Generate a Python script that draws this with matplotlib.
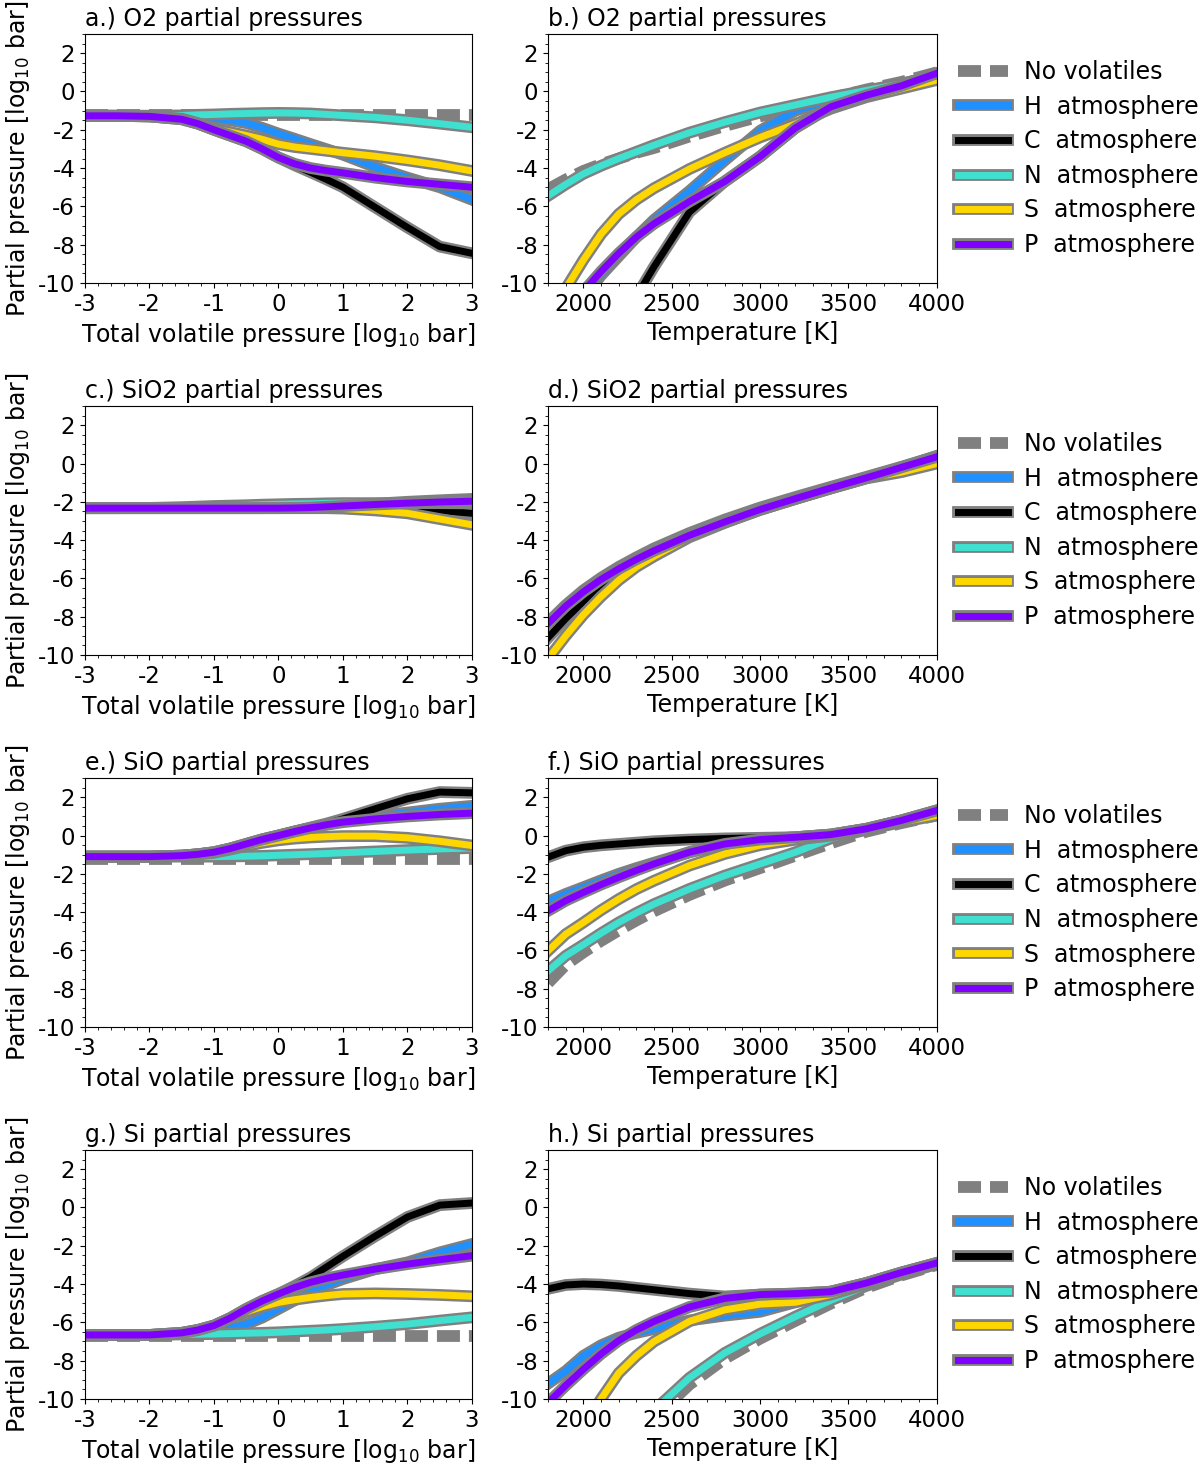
import numpy as np
import matplotlib
matplotlib.use('Agg')
import matplotlib.pyplot as plt
import matplotlib.patheffects as pe
from matplotlib.ticker import AutoMinorLocator

plt.rcParams['font.family'] = 'DejaVu Sans'
plt.rcParams['font.size'] = 17
plt.rcParams['axes.unicode_minus'] = False

# x grids
logp = [-3, -2.5, -2, -1.5, -1.25, -1, -0.75, -0.5, -0.25, 0, 0.25, 0.5, 0.75, 1, 1.5, 2, 2.5, 3]
temp = [1800, 1900, 2000, 2100, 2200, 2300, 2400, 2600, 2800, 3000, 3200, 3400, 3600, 3800, 4000]

atmos = ['H', 'C', 'N', 'S', 'P']
colors = ['dodgerblue', 'black', 'turquoise', 'gold', '#7f00ff']

# O2 vs total volatile pressure
o2_p = {
    'none': [-1.25, -1.25, -1.25, -1.25, -1.25, -1.25, -1.25, -1.25, -1.25,
             -1.25, -1.25, -1.25, -1.25, -1.25, -1.25, -1.25, -1.25, -1.25],
    'H': [-1.27, -1.27, -1.27, -1.3, -1.34, -1.4, -1.5, -1.65, -1.9, -2.2, -2.47, -2.75, -3.02, -3.3, -3.95, -4.5, -5.0, -5.65],
    'C': [-1.27, -1.27, -1.3, -1.45, -1.68, -2.0, -2.3, -2.6, -3.0, -3.45, -3.85, -4.22, -4.6, -5.0, -6.05, -7.1, -8.1, -8.45],
    'N': [-1.27, -1.27, -1.27, -1.25, -1.22, -1.2, -1.17, -1.15, -1.13, -1.12, -1.13, -1.15, -1.2, -1.25, -1.35, -1.5, -1.68, -1.87],
    'S': [-1.27, -1.27, -1.3, -1.42, -1.65, -1.95, -2.12, -2.3, -2.5, -2.75, -2.9, -3.0, -3.1, -3.2, -3.38, -3.6, -3.85, -4.15],
    'P': [-1.27, -1.27, -1.3, -1.45, -1.68, -2.0, -2.3, -2.6, -3.0, -3.45, -3.78, -4.0, -4.14, -4.25, -4.5, -4.7, -4.85, -5.0],
}
# O2 vs temperature
o2_t = {
    'none': [-5.1, -4.6, -4.15, -3.8, -3.5, -3.2, -2.95, -2.35, -1.8, -1.3, -0.85, -0.35, 0.1, 0.5, 1.0],
    'H': [-13.0, -12.0, -10.8, -9.6, -8.6, -7.6, -6.7, -5.2, -3.6, -2.05, -1.0, -0.45, 0.0, 0.4, 0.85],
    'C': [-19.0, -17.0, -15.5, -14.0, -12.4, -10.7, -9.15, -6.3, -4.7, -3.4, -1.9, -0.8, -0.2, 0.3, 0.95],
    'N': [-5.45, -4.85, -4.3, -3.88, -3.5, -3.15, -2.8, -2.15, -1.6, -1.1, -0.7, -0.3, 0.05, 0.4, 0.85],
    'S': [-12.0, -10.3, -8.8, -7.45, -6.4, -5.65, -5.05, -4.05, -3.2, -2.4, -1.7, -0.9, -0.3, 0.15, 0.6],
    'P': [-12.6, -11.5, -10.45, -9.4, -8.45, -7.6, -6.9, -5.75, -4.7, -3.4, -1.9, -0.8, -0.2, 0.3, 0.95],
}
# SiO2 vs total volatile pressure
sio2_p = {
    'none': [-2.33, -2.33, -2.33, -2.33, -2.33, -2.33, -2.33, -2.33, -2.33,
             -2.33, -2.33, -2.33, -2.33, -2.33, -2.33, -2.33, -2.33, -2.33],
    'H': [-2.33, -2.33, -2.33, -2.33, -2.33, -2.33, -2.33, -2.33, -2.33, -2.32, -2.3, -2.28, -2.24, -2.2, -2.1, -2.0, -1.92, -1.85],
    'C': [-2.33, -2.33, -2.33, -2.33, -2.33, -2.33, -2.33, -2.33, -2.33, -2.33, -2.33, -2.33, -2.33, -2.33, -2.33, -2.35, -2.45, -2.6],
    'N': [-2.33, -2.33, -2.32, -2.28, -2.25, -2.22, -2.2, -2.18, -2.15, -2.13, -2.11, -2.1, -2.08, -2.07, -2.07, -2.07, -2.07, -2.08],
    'S': [-2.33, -2.33, -2.33, -2.33, -2.33, -2.33, -2.33, -2.33, -2.33, -2.33, -2.33, -2.33, -2.33, -2.35, -2.45, -2.6, -2.9, -3.2],
    'P': [-2.33, -2.33, -2.33, -2.33, -2.33, -2.33, -2.33, -2.33, -2.33, -2.33, -2.32, -2.3, -2.26, -2.22, -2.14, -2.07, -2.01, -1.97],
}
# SiO2 vs temperature
sio2_t = {
    'none': [-8.35, -7.45, -6.68, -6.02, -5.45, -4.95, -4.5, -3.7, -3.0, -2.35, -1.8, -1.26, -0.74, -0.2, 0.33],
    'H': [-8.35, -7.45, -6.7, -6.05, -5.5, -5.0, -4.55, -3.75, -3.05, -2.4, -1.83, -1.28, -0.75, -0.2, 0.4],
    'C': [-9.1, -8.1, -7.2, -6.35, -5.6, -5.05, -4.58, -3.77, -3.07, -2.42, -1.85, -1.3, -0.77, -0.22, 0.33],
    'N': [-8.3, -7.4, -6.62, -5.97, -5.4, -4.9, -4.43, -3.63, -2.93, -2.3, -1.75, -1.22, -0.7, -0.17, 0.38],
    'S': [-10.2, -9.0, -7.9, -6.95, -6.1, -5.4, -4.85, -3.85, -3.1, -2.42, -1.85, -1.3, -0.78, -0.45, 0.0],
    'P': [-8.35, -7.45, -6.7, -6.05, -5.5, -5.0, -4.55, -3.75, -3.05, -2.4, -1.83, -1.28, -0.75, -0.2, 0.35],
}
# SiO vs total volatile pressure
sio_p = {
    'none': [-1.2, -1.2, -1.2, -1.2, -1.2, -1.2, -1.2, -1.2, -1.2,
             -1.2, -1.2, -1.2, -1.2, -1.2, -1.2, -1.2, -1.2, -1.2],
    'H': [-1.1, -1.1, -1.1, -1.05, -0.98, -0.87, -0.68, -0.44, -0.2, 0.0, 0.21, 0.4, 0.58, 0.75, 1.0, 1.2, 1.4, 1.55],
    'C': [-1.1, -1.1, -1.1, -1.05, -0.98, -0.87, -0.68, -0.44, -0.2, 0.0, 0.21, 0.42, 0.63, 0.87, 1.4, 1.92, 2.27, 2.23],
    'N': [-1.1, -1.1, -1.1, -1.1, -1.1, -1.1, -1.09, -1.08, -1.06, -1.03, -1.0, -0.97, -0.94, -0.9, -0.83, -0.76, -0.7, -0.65],
    'S': [-1.1, -1.1, -1.1, -1.05, -0.98, -0.9, -0.73, -0.55, -0.38, -0.25, -0.16, -0.1, -0.06, -0.03, -0.03, -0.12, -0.3, -0.52],
    'P': [-1.1, -1.1, -1.1, -1.05, -0.98, -0.87, -0.68, -0.44, -0.2, 0.0, 0.21, 0.4, 0.57, 0.7, 0.87, 1.0, 1.1, 1.17],
}
# SiO vs temperature
sio_t = {
    'none': [-7.7, -6.75, -6.1, -5.5, -4.95, -4.43, -3.95, -3.1, -2.35, -1.7, -1.05, -0.4, 0.2, 0.65, 1.05],
    'H': [-3.45, -3.05, -2.7, -2.34, -2.0, -1.7, -1.42, -0.87, -0.44, -0.21, -0.09, 0.05, 0.35, 0.79, 1.31],
    'C': [-1.13, -0.79, -0.61, -0.51, -0.44, -0.37, -0.3, -0.21, -0.15, -0.12, -0.09, 0.05, 0.35, 0.79, 1.31],
    'N': [-7.07, -6.28, -5.7, -5.1, -4.54, -4.04, -3.58, -2.79, -2.09, -1.48, -0.87, -0.15, 0.3, 0.75, 1.25],
    'S': [-6.02, -5.15, -4.54, -3.9, -3.32, -2.8, -2.36, -1.57, -0.96, -0.5, -0.22, 0.0, 0.3, 0.7, 1.05],
    'P': [-3.93, -3.4, -2.97, -2.56, -2.18, -1.82, -1.48, -0.87, -0.44, -0.21, -0.09, 0.05, 0.35, 0.79, 1.31],
}
# Si vs total volatile pressure
si_p = {
    'none': [-6.7, -6.7, -6.7, -6.7, -6.7, -6.7, -6.7, -6.7, -6.7,
             -6.7, -6.7, -6.7, -6.7, -6.7, -6.7, -6.7, -6.7, -6.7],
    'H': [-6.66, -6.66, -6.66, -6.6, -6.55, -6.45, -6.3, -6.1, -5.75, -5.3, -4.85, -4.43, -4.05, -3.74, -3.22, -2.87, -2.35, -1.91],
    'C': [-6.66, -6.66, -6.66, -6.55, -6.4, -6.17, -5.78, -5.3, -4.88, -4.52, -4.1, -3.65, -3.1, -2.55, -1.5, -0.5, 0.12, 0.23],
    'N': [-6.66, -6.66, -6.66, -6.63, -6.62, -6.61, -6.59, -6.57, -6.55, -6.52, -6.48, -6.44, -6.4, -6.35, -6.23, -6.09, -5.91, -5.74],
    'S': [-6.66, -6.66, -6.66, -6.55, -6.4, -6.17, -5.8, -5.45, -5.18, -4.96, -4.82, -4.7, -4.6, -4.52, -4.49, -4.52, -4.57, -4.64],
    'P': [-6.66, -6.66, -6.66, -6.55, -6.4, -6.17, -5.78, -5.3, -4.88, -4.52, -4.18, -3.91, -3.7, -3.53, -3.22, -2.96, -2.73, -2.52],
}
# Si vs temperature
si_t = {
    'none': [-18.5, -17.1, -15.8, -14.5, -13.2, -12.1, -11.0, -9.25, -7.9, -6.85, -5.92, -5.02, -4.2, -3.55, -3.0],
    'H': [-9.2, -8.55, -7.75, -7.2, -6.8, -6.55, -6.35, -5.9, -5.65, -5.45, -4.95, -4.4, -3.95, -3.4, -2.9],
    'C': [-4.25, -4.05, -4.0, -4.03, -4.1, -4.2, -4.3, -4.5, -4.65, -4.55, -4.5, -4.4, -3.95, -3.4, -2.9],
    'N': [-18.0, -16.6, -15.3, -14.0, -12.8, -11.7, -10.6, -8.9, -7.6, -6.6, -5.7, -4.85, -4.1, -3.5, -2.95],
    'S': [-15.0, -13.0, -11.5, -10.0, -8.65, -7.75, -7.0, -5.95, -5.35, -5.05, -4.95, -4.55, -4.0, -3.45, -2.95],
    'P': [-10.2, -9.3, -8.45, -7.65, -6.95, -6.4, -5.95, -5.2, -4.75, -4.55, -4.5, -4.4, -3.95, -3.4, -2.9],
}

species = ['O2', 'SiO2', 'SiO', 'Si']
data_p = [o2_p, sio2_p, sio_p, si_p]
data_t = [o2_t, sio2_t, sio_t, si_t]
letters = 'abcdefgh'

fig = plt.figure(figsize=(12, 14.67), dpi=100)
bottoms = [0.8071, 0.5535, 0.2999, 0.0464]
h = 0.1697

def draw(ax, x, d):
    ax.plot(x, d['none'], color='gray', lw=8.5, dashes=(1.95, 0.76), label='No volatiles')
    for el, c in zip(atmos, colors):
        ax.plot(x, d[el], color=c, lw=5, label=el + '  atmosphere',
                path_effects=[pe.Stroke(linewidth=8.5, foreground='gray'), pe.Normal()])
    ax.set_ylim(-10, 3)
    ax.set_yticks(np.arange(-10, 3, 2))
    ax.xaxis.set_minor_locator(AutoMinorLocator())
    ax.yaxis.set_minor_locator(AutoMinorLocator())
    ax.tick_params(labelsize=16.5)

for i in range(4):
    ax1 = fig.add_axes([0.0708, bottoms[i], 0.3225, h])
    draw(ax1, logp, data_p[i])
    ax1.set_xlim(-3, 3)
    ax1.set_xticks(np.arange(-3, 4, 1))
    ax1.set_xlabel('Total volatile pressure [log$_{10}$ bar]')
    ax1.set_ylabel('Partial pressure [log$_{10}$ bar]')
    ax1.set_title(letters[2*i] + '.) ' + species[i] + ' partial pressures', loc='left', fontsize=17)

    ax2 = fig.add_axes([0.4567, bottoms[i], 0.324, h])
    draw(ax2, temp, data_t[i])
    ax2.set_xlim(1800, 4000)
    ax2.set_xticks(np.arange(2000, 4001, 500))
    ax2.set_xlabel('Temperature [K]')
    ax2.set_title(letters[2*i+1] + '.) ' + species[i] + ' partial pressures', loc='left', fontsize=17)
    ax2.legend(loc='center left', bbox_to_anchor=(1.0, 0.5), frameon=False,
               handlelength=2.1, handletextpad=0.7, labelspacing=0.45)

fig.savefig('out.png', dpi=100)
